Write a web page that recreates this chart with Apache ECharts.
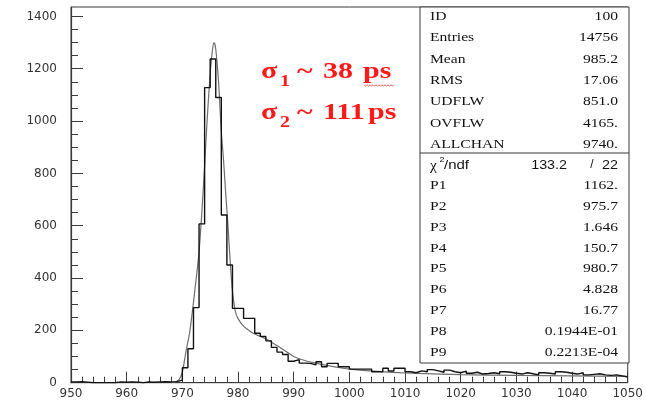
<!DOCTYPE html>
<html>
<head>
<meta charset="utf-8">
<script src="https://cdn.jsdelivr.net/npm/echarts@6/dist/echarts.min.js"></script>
<style>
  html, body { margin: 0; padding: 0; background: #fff; }
  #chart { width: 646px; height: 404px; }
</style>
</head>
<body>
<div id="chart"></div>
<script>
// Time histogram: 100 bins of 1 unit starting at 950
const binStart = 950;
const binWidth = 1;
const counts = [
  3, 4, 2, 0, 0, 0, 0, 0, 3, 2,          // 950-959
  3, 2, 0, 3, 2, 3, 4, 3, 4, 10,         // 960-969
  57, 130, 287, 607, 1128, 1237, 1090, 641, 450, 284, // 970-979
  284, 246, 246, 189, 177, 160, 135, 117, 108, 82,    // 980-989
  88, 75, 74, 68, 80, 61, 74, 74, 61, 61,             // 990-999
  52, 52, 52, 52, 42, 42, 55, 45, 55, 55,             // 1000-1009
  42, 38, 45, 42, 50, 45, 40, 48, 42, 38,             // 1010-1019
  44, 36, 40, 33, 35, 38, 34, 42, 40, 36,             // 1020-1029
  33, 38, 34, 30, 38, 36, 33, 42, 40, 36,             // 1030-1039
  33, 38, 30, 32, 34, 30, 28, 30, 26, 22              // 1040-1049
];

// Fitted curve sampled along x
const fitX = [968, 969, 969.5, 970, 970.4, 970.7, 971.3, 971.9, 972.5, 973, 973.5, 974, 974.5, 975, 975.4, 975.7,
  976, 976.5, 977, 977.4, 977.8, 978.2, 978.6, 979, 979.5, 980, 981, 982, 983, 984, 985, 986, 987, 988, 989, 990,
  992, 994, 996, 998, 1000, 1005, 1010, 1020, 1030, 1040, 1050];
const fitY = [0, 5, 15, 40, 87, 125, 190, 290, 400, 500, 650, 830, 1020, 1180, 1270, 1300,
  1275, 1150, 960, 850, 720, 600, 460, 350, 275, 245, 216, 199, 186, 177, 168, 155, 142, 128, 114, 100,
  85, 75, 66, 58, 52, 43, 37, 31, 28, 26, 24];

// Axis ranges and tick positions
const xMin = 950, xMax = 1050, xStep = 10;
const yMin = 0, yMax = 1436;
const yMajorTicks = [0, 200, 400, 600, 800, 1000, 1200, 1400];
const yMinorTicks = [50, 100, 150, 250, 300, 350, 450, 500, 550, 650, 700, 750, 850, 900, 950,
  1050, 1100, 1150, 1250, 1300, 1350];

// Statistics panel text
const statNames = ['ID', 'Entries', 'Mean', 'RMS', 'UDFLW', 'OVFLW', 'ALLCHAN'];
const statValues = ['100', '14756', '985.2', '17.06', '851.0', '4165.', '9740.'];
const chi2Value = '133.2';
const ndfValue = '22';
const parNames = ['P1', 'P2', 'P3', 'P4', 'P5', 'P6', 'P7', 'P8', 'P9'];
const parValues = ['1162.', '975.7', '1.646', '150.7', '980.7', '4.828', '16.77', '0.1944E-01', '0.2213E-04'];

const histData = counts.map((c, i) => [binStart + i * binWidth, c]);
histData.push([binStart + counts.length * binWidth, counts[counts.length - 1]]);
const fitData = fitX.map((x, i) => [x, fitY[i]]);

const axisColor = '#3a3a3a';
const labelFont = 'DejaVu Sans';
const plainNumber = v => String(v);

const chart = echarts.init(document.getElementById('chart'), null, { renderer: 'canvas' });

// Panel geometry
const box = { x: 420, y: 7, w: 209, h: 356, split: 153 };
const serif = '"Liberation Serif", "Times New Roman", serif';
const sans = '"Liberation Sans", Arial, sans-serif';
const graphics = [];

graphics.push({
  type: 'rect', z: 10,
  shape: { x: box.x, y: box.y, width: box.w, height: box.h },
  style: { fill: '#fff', stroke: axisColor, lineWidth: 1 }
});
graphics.push({
  type: 'line', z: 11,
  shape: { x1: box.x, y1: box.split, x2: box.x + box.w, y2: box.split },
  style: { stroke: axisColor, lineWidth: 1.2 }
});

function txt(str, x, y, align, font, scaleX, color, z) {
  graphics.push({
    type: 'text', z: z || 12, x: x, y: y, scaleX: scaleX || 1,
    style: {
      text: str, x: 0, y: 0, font: font, fill: color || '#111',
      align: align, verticalAlign: 'middle',
      textAlign: align, textVerticalAlign: 'middle'
    }
  });
}

const statRowY = [16.7, 38, 59.3, 80.6, 102, 123.3, 144.6];
statNames.forEach((n, i) => {
  txt(n, 430, statRowY[i], 'left', '13px ' + serif, 1.2);
  txt(statValues[i], 618, statRowY[i], 'right', '13px ' + serif, 1.2);
});

// chi-square row
txt('\u03C7', 430, 166, 'left', '14px ' + serif, 1.1);
txt('2', 439.5, 160, 'left', '8px ' + sans, 1.1);
txt('/ndf', 444, 165, 'left', '13px ' + sans, 1.15);
txt(chi2Value, 567, 165, 'right', '13px ' + sans, 1.1);
txt('/', 592, 165, 'center', '12px ' + sans, 1.0);
txt(ndfValue, 618, 165, 'right', '13px ' + sans, 1.1);

const parRowY = [185.8, 206.6, 227.4, 248.2, 269, 289.8, 310.6, 331.4, 352.2];
parNames.forEach((n, i) => {
  txt(n, 430, parRowY[i], 'left', '13px ' + serif, 1.2);
  txt(parValues[i], 618, parRowY[i], 'right', '13px ' + serif, 1.2);
});

// Resolution annotations
const red = '#ff1a1a';
const bigFont = 'bold 24px ' + serif;
const subFont = 'bold 16px ' + serif;
const sx = 1.25;
txt('\u03C3', 261, 71.3, 'left', bigFont, sx, red);
txt('1', 280, 82, 'left', subFont, sx, red);
txt('~', 297, 71.3, 'left', bigFont, sx, red);
txt('38', 323, 71.3, 'left', bigFont, sx, red);
txt('ps', 363, 71.3, 'left', bigFont, sx, red);
txt('\u03C3', 261, 112.3, 'left', bigFont, sx, red);
txt('2', 280, 123, 'left', subFont, sx, red);
txt('~', 297, 112.3, 'left', bigFont, sx, red);
txt('111', 323, 112.3, 'left', bigFont, sx, red);
txt('ps', 368, 112.3, 'left', bigFont, sx, red);

// spelling squiggle under "ps"
const squiggle = [];
for (let k = 0; k <= 20; k++) {
  squiggle.push([364 + k * 1.5, 85.5 + (k % 2 === 0 ? -0.8 : 0.8)]);
}
graphics.push({
  type: 'polyline', z: 12,
  shape: { points: squiggle },
  style: { stroke: '#d04040', lineWidth: 0.8, fill: null }
});

const option = {
  animation: false,
  backgroundColor: '#fff',
  grid: {
    left: 71, top: 7, width: 558, height: 375.7,
    show: true, borderColor: axisColor, borderWidth: 1, backgroundColor: 'transparent'
  },
  xAxis: {
    type: 'value', min: xMin, max: xMax, interval: xStep,
    axisLine: { show: true, lineStyle: { color: axisColor, width: 1.2 } },
    axisTick: { show: true, inside: true, length: 11, lineStyle: { color: axisColor, width: 1 } },
    minorTick: { show: true, splitNumber: 5, length: 6, lineStyle: { color: axisColor, width: 1 } },
    splitLine: { show: false },
    axisLabel: { color: '#333', fontFamily: labelFont, fontSize: 12, margin: 5, formatter: plainNumber }
  },
  yAxis: [
    {
      type: 'value', min: yMin, max: yMax,
      axisLine: { show: true, lineStyle: { color: axisColor, width: 1.2 } },
      axisTick: { show: true, inside: true, length: 12, customValues: yMajorTicks, lineStyle: { color: axisColor, width: 1 } },
      splitLine: { show: false },
      axisLabel: { color: '#333', fontFamily: labelFont, fontSize: 12, margin: 14, customValues: yMajorTicks, formatter: plainNumber }
    },
    {
      type: 'value', min: yMin, max: yMax, position: 'left',
      axisLine: { show: false },
      axisTick: { show: true, inside: true, length: 7, customValues: yMinorTicks, lineStyle: { color: axisColor, width: 1 } },
      splitLine: { show: false },
      axisLabel: { show: false }
    }
  ],
  series: [
    {
      name: 'fit', type: 'line', data: fitData, yAxisIndex: 0,
      smooth: 0.3, showSymbol: false, symbol: 'none',
      lineStyle: { color: '#6e6e6e', width: 1.2 }, z: 2
    },
    {
      name: 'histogram', type: 'line', data: histData, yAxisIndex: 0,
      step: 'end', showSymbol: false, symbol: 'none',
      lineStyle: { color: '#111', width: 1.4 }, z: 3
    }
  ],
  graphic: graphics
};

chart.setOption(option);
</script>
</body>
</html>
